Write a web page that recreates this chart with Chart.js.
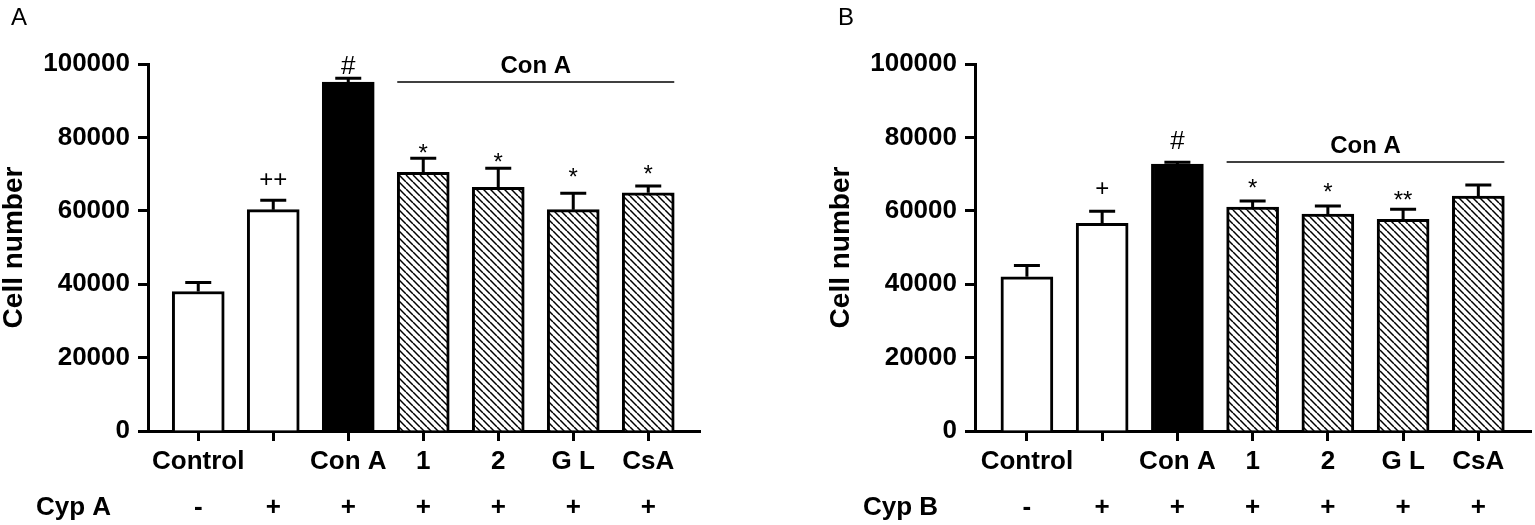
<!DOCTYPE html>
<html>
<head>
<meta charset="utf-8">
<script src="https://cdn.jsdelivr.net/npm/chart.js@4.4.1/dist/chart.umd.min.js"></script>
<style>
  html, body { margin: 0; padding: 0; background: #fff; }
  body { width: 1535px; height: 525px; position: relative; overflow: hidden; }
  .panel { position: absolute; top: 0; height: 525px; }
  #panelA { left: 0; width: 720px; }
  #panelB { left: 827px; width: 708px; }
</style>
</head>
<body>
<div class="panel" id="panelA"><canvas id="chartA"></canvas></div>
<div class="panel" id="panelB"><canvas id="chartB"></canvas></div>
<script>
// groups along the x axis, and the Cyp row underneath
const categories = ['Control', '', 'Con A', '1', '2', 'G L', 'CsA'];
const cypSigns = ['-', '+', '+', '+', '+', '+', '+'];
const yTicks = [0, 20000, 40000, 60000, 80000, 100000];

// panel A (Cyp A), mean and upper error
const cypAValues = [38000, 60300, 95100, 70500, 66400, 60300, 64900];
const cypAErrors = [2450, 2600, 1000, 3850, 5200, 4500, 1850];
const cypAMarks = ['', '++', '#', '*', '*', '*', '*'];

// panel B (Cyp B)
const cypBValues = [42000, 56600, 72700, 61000, 59100, 57700, 64000];
const cypBErrors = [3100, 3300, 500, 1650, 2200, 2700, 3000];
const cypBMarks = ['', '+', '#', '*', '*', '**', ''];

const FONT = "'Liberation Sans', Arial, sans-serif";
Chart.defaults.font.family = FONT;
Chart.defaults.color = '#000';

function hatch() {
  const s = 7;
  const c = document.createElement('canvas');
  c.width = s; c.height = s;
  const g = c.getContext('2d');
  g.fillStyle = '#fff';
  g.fillRect(0, 0, s, s);
  g.strokeStyle = '#000';
  g.lineWidth = 1.5;
  for (const k of [-s, 0, s]) {
    g.beginPath();
    g.moveTo(k, 0);
    g.lineTo(k + s, s);
    g.stroke();
  }
  return g.createPattern(c, 'repeat');
}

function centerText(ctx, text, x, cy) {
  ctx.textBaseline = 'alphabetic';
  const m = ctx.measureText(text);
  ctx.fillText(text, x, cy + (m.actualBoundingBoxAscent - m.actualBoundingBoxDescent) / 2);
}

// error bars, significance marks, the "Con A" bracket and side labels
const extras = {
  id: 'extras',
  afterDatasetsDraw(chart, args, o) {
    const { ctx, chartArea, scales: { y } } = chart;
    const bars = chart.getDatasetMeta(0).data;
    const ds = chart.data.datasets[0];
    ctx.save();
    ctx.strokeStyle = '#000';
    ctx.fillStyle = '#000';
    ctx.textAlign = 'center';

    bars.forEach((bar, i) => {
      const v = ds.data[i].y;
      const top = y.getPixelForValue(v);
      const cap = y.getPixelForValue(v + o.errors[i]);
      ctx.lineWidth = 3;
      ctx.beginPath();
      ctx.moveTo(bar.x, top);
      ctx.lineTo(bar.x, cap);
      ctx.moveTo(bar.x - 13, cap);
      ctx.lineTo(bar.x + 13, cap);
      ctx.stroke();
      if (o.marks[i]) {
        ctx.font = (o.marks[i] === '#' ? '26px ' : '24px ') + FONT;
        centerText(ctx, o.marks[i], bar.x, cap - o.gaps[i]);
      }
    });

    // bracket over the Con A treated groups
    const b0 = bars[o.bracket.from], b1 = bars[o.bracket.to];
    const by = y.getPixelForValue(o.bracket.value);
    ctx.lineWidth = 1.5;
    ctx.beginPath();
    ctx.moveTo(b0.x - b0.width / 2, by);
    ctx.lineTo(b1.x + b1.width / 2, by);
    ctx.stroke();
    ctx.font = 'bold 24px ' + FONT;
    centerText(ctx, o.bracket.text, (b0.x + b1.x) / 2, by - 17);

    // row label for the Cyp signs and the panel letter
    ctx.textAlign = 'left';
    ctx.font = 'bold 26px ' + FONT;
    centerText(ctx, o.rowLabel, 36, chartArea.bottom + 77);
    ctx.font = '24px ' + FONT;
    centerText(ctx, o.letter, 11, 16);
    ctx.restore();
  }
};

function makeChart(id, opts) {
  const fills = ['#fff', '#fff', '#000', hatch(), hatch(), hatch(), hatch()];
  return new Chart(document.getElementById(id), {
    type: 'bar',
    data: {
      datasets: [{
        data: opts.values.map((v, i) => ({ x: i, y: v })),
        backgroundColor: fills,
        borderColor: '#000',
        borderWidth: 3,
        borderSkipped: 'start',
        barThickness: 52
      }]
    },
    options: {
      responsive: true,
      maintainAspectRatio: false,
      animation: false,
      layout: { padding: { top: 64, right: opts.padRight, bottom: 0, left: 0 } },
      plugins: {
        legend: { display: false },
        tooltip: { enabled: false },
        extras: {
          errors: opts.errors,
          marks: opts.marks,
          gaps: opts.gaps,
          bracket: opts.bracket,
          rowLabel: opts.rowLabel,
          letter: opts.letter
        }
      },
      scales: {
        x: {
          type: 'linear',
          min: opts.xMin,
          max: opts.xMax,
          offset: false,
          z: 1,
          afterBuildTicks: s => { s.ticks = categories.map((c, i) => ({ value: i })); },
          afterFit: s => { s.height = 94; },
          border: { color: '#000', width: 3 },
          grid: { offset: false, drawOnChartArea: false, drawTicks: true, tickLength: 10, tickWidth: 3, tickColor: '#000' },
          ticks: {
            autoSkip: false,
            maxRotation: 0,
            padding: -2,
            color: '#000',
            font: { size: 26, weight: 'bold', lineHeight: 1.77 },
            callback: v => [categories[v], cypSigns[v]]
          }
        },
        y: {
          min: 0,
          max: 100000,
          z: 1,
          afterBuildTicks: s => { s.ticks = yTicks.map(v => ({ value: v })); },
          afterFit: s => { s.width = 148; },
          border: { color: '#000', width: 3 },
          grid: { drawOnChartArea: false, tickLength: 10, tickWidth: 3, tickColor: '#000' },
          ticks: {
            padding: 8,
            color: '#000',
            font: { size: 26, weight: 'bold' },
            callback: v => String(v)
          },
          title: {
            display: true,
            text: 'Cell number',
            color: '#000',
            padding: 0,
            font: { size: 28, weight: 'bold', lineHeight: 1 }
          }
        }
      }
    },
    plugins: [extras]
  });
}

makeChart('chartA', {
  values: cypAValues,
  errors: cypAErrors,
  marks: cypAMarks,
  gaps: [0, 21, 13, 10, 11, 21, 17],
  bracket: { from: 3, to: 6, value: 95100, text: 'Con A' },
  rowLabel: 'Cyp A',
  letter: 'A',
  xMin: -0.67,
  xMax: 6.69,
  padRight: 20
});

makeChart('chartB', {
  values: cypBValues,
  errors: cypBErrors,
  marks: cypBMarks,
  gaps: [0, 23, 22, 18, 19, 14, 0],
  bracket: { from: 3, to: 6, value: 73300, text: 'Con A' },
  rowLabel: 'Cyp B',
  letter: 'B',
  xMin: -0.69,
  xMax: 6.7,
  padRight: 4
});
</script>
</body>
</html>
